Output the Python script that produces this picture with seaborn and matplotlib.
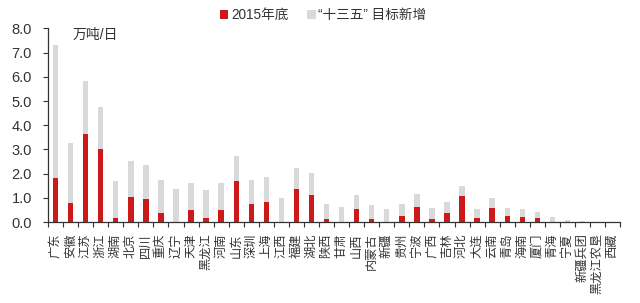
import matplotlib
matplotlib.use("Agg")
import matplotlib.pyplot as plt
from matplotlib.patches import Patch
from matplotlib.ticker import FixedLocator
import seaborn as sns
import pandas as pd
import numpy as np

regions = ["广东", "安徽", "江苏", "浙江", "湖南", "北京", "四川", "重庆", "辽宁", "天津",
           "黑龙江", "河南", "山东", "深圳", "上海", "江西", "福建", "湖北", "陕西", "甘肃",
           "山西", "内蒙古", "新疆", "贵州", "宁波", "广西", "吉林", "河北", "大连", "云南",
           "青岛", "海南", "厦门", "青海", "宁夏", "新疆兵团", "黑龙江农垦", "西藏"]
base_2015 = [1.82, 0.79, 3.65, 3.03, 0.15, 1.03, 0.95, 0.37, 0.02, 0.51,
             0.18, 0.48, 1.71, 0.74, 0.84, 0.00, 1.36, 1.14, 0.13, 0.00,
             0.54, 0.14, 0.00, 0.25, 0.63, 0.14, 0.36, 1.06, 0.18, 0.59,
             0.25, 0.23, 0.15, 0.00, 0.00, 0.00, 0.00, 0.00]
target_new = [5.48, 2.47, 2.16, 1.71, 1.56, 1.50, 1.42, 1.39, 1.33, 1.12,
              1.14, 1.12, 1.03, 1.01, 1.01, 0.98, 0.89, 0.89, 0.63, 0.61,
              0.60, 0.56, 0.54, 0.51, 0.53, 0.45, 0.48, 0.43, 0.38, 0.39,
              0.33, 0.33, 0.25, 0.21, 0.08, 0.03, 0.02, 0.01]
legend_labels = ["2015年底", "“十三五” 目标新增"]
unit_label = "万吨/日"

RED = "#CC1A1A"
GRAY = "#D9D9D9"
TXT = "#333333"

df = pd.DataFrame({"region": regions,
                   "base": base_2015,
                   "total": np.array(base_2015) + np.array(target_new)})

sns.set_theme(style="white")
plt.rcParams["font.family"] = ["Liberation Sans", "Noto Sans CJK SC"]
plt.rcParams["axes.unicode_minus"] = False

fig = plt.figure(figsize=(6.4, 3.03), dpi=100)
ax = fig.add_axes([0.075, 0.267, 0.894, 0.639])

sns.barplot(data=df, x="region", y="total", order=regions, color=GRAY,
            width=0.36, ax=ax, saturation=1, linewidth=0)
sns.barplot(data=df, x="region", y="base", order=regions, color=RED,
            width=0.36, ax=ax, saturation=1, linewidth=0)

ax.set_xlim(-0.5, len(regions) - 0.5)
ax.set_ylim(0, 8)
ax.set_yticks(np.arange(0, 8.01, 1.0))
ax.set_yticklabels([f"{v:.1f}" for v in np.arange(0, 8.01, 1.0)], fontsize=10.5, color=TXT)
ax.set_xlabel("")
ax.set_ylabel("")

ax.set_xticks(range(len(regions)))
ax.set_xticklabels(regions, rotation=90, fontsize=8.8, color=TXT, va="top", ha="center")
ax.tick_params(axis="x", which="major", length=0, pad=8)
ax.xaxis.set_minor_locator(FixedLocator(np.arange(-0.5, len(regions), 1.0)))
ax.tick_params(axis="x", which="minor", length=3.5, width=0.8, color="#333333", direction="out", bottom=True)
ax.tick_params(axis="y", which="major", length=3.5, width=0.8, color="#333333", direction="out", left=True, pad=8)

for s in ["top", "right"]:
    ax.spines[s].set_visible(False)
for s in ["left", "bottom"]:
    ax.spines[s].set_color("#333333")
    ax.spines[s].set_linewidth(0.9)
ax.grid(False)

ax.text(1.1, 7.74, unit_label, fontsize=10, color=TXT, va="center", ha="left")

handles = [Patch(facecolor=RED, edgecolor="none"), Patch(facecolor=GRAY, edgecolor="none")]
fig.legend(handles, legend_labels, loc="center", bbox_to_anchor=(0.505, 0.95),
           ncol=2, frameon=False, prop={"size": 9.8}, handlelength=0.6, handleheight=0.6,
           handletextpad=0.2, columnspacing=1.4, labelcolor=TXT)

fig.savefig("out.png", dpi=100)
